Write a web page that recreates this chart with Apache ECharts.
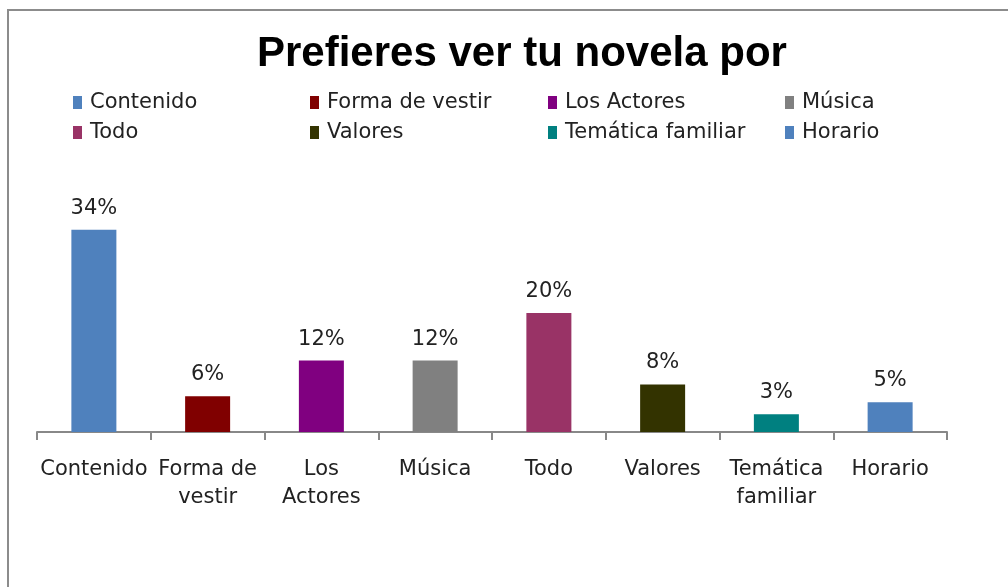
<!DOCTYPE html>
<html>
<head>
<meta charset="utf-8">
<script src="https://cdn.jsdelivr.net/npm/echarts@6/dist/echarts.min.js"></script>
<style>
  html, body { margin: 0; padding: 0; background: #fff; }
  #chart { width: 1008px; height: 587px; }
</style>
</head>
<body>
<div id="chart"></div>
<script>
// data
var categories = ['Contenido', 'Forma de\nvestir', 'Los\nActores', 'Música', 'Todo', 'Valores', 'Temática\nfamiliar', 'Horario'];
var legendNames = ['Contenido', 'Forma de vestir', 'Los Actores', 'Música', 'Todo', 'Valores', 'Temática familiar', 'Horario'];
var percentValues = [34, 6, 12, 12, 20, 8, 3, 5];
var barColors = ['#4f81bd', '#800000', '#800080', '#808080', '#993366', '#333300', '#008080', '#4f81bd'];

var chart = echarts.init(document.getElementById('chart'));

// one series per category so each gets its own legend entry
var series = legendNames.map(function (name, i) {
    return {
        name: name,
        type: 'bar',
        stack: 'all',
        barWidth: 45,
        itemStyle: { color: barColors[i] },
        label: {
            show: true,
            position: 'top',
            distance: 11,
            formatter: '{c}%',
            color: '#222',
            fontFamily: 'DejaVu Sans',
            fontSize: 21
        },
        data: percentValues.map(function (v, j) { return j === i ? v : '-'; })
    };
});

// legend laid out as 4 columns of 2 rows, like the original
var legendCols = [68, 305, 543, 780];
var legends = legendCols.map(function (x, c) {
    return {
        left: x,
        top: 87,
        orient: 'vertical',
        icon: 'rect',
        itemWidth: 9,
        itemHeight: 13,
        itemGap: 9,
        selectedMode: false,
        textStyle: { fontFamily: 'DejaVu Sans', fontSize: 21, color: '#222', padding: [0, 0, 0, 3] },
        data: [legendNames[c], legendNames[c + 4]]
    };
});

chart.setOption({
    animation: false,
    backgroundColor: '#fff',
    title: {
        text: 'Prefieres ver tu novela por',
        left: 252,
        top: 28,
        textStyle: { fontFamily: 'Liberation Sans', fontWeight: 'bold', fontSize: 42, color: '#000' }
    },
    legend: legends,
    grid: { left: 37, right: 61, top: 194, bottom: 155 },
    xAxis: {
        type: 'category',
        data: categories,
        axisLine: { lineStyle: { color: '#888', width: 2 } },
        axisTick: { show: true, length: 8, lineStyle: { color: '#888', width: 2 } },
        axisLabel: {
            interval: 0,
            margin: 24,
            color: '#222',
            fontFamily: 'DejaVu Sans',
            fontSize: 21,
            lineHeight: 28
        }
    },
    yAxis: {
        type: 'value',
        min: 0,
        max: 40,
        show: false,
        splitLine: { show: false }
    },
    graphic: [{
        type: 'rect',
        shape: { x: 8, y: 10, width: 1020, height: 600 },
        style: { fill: 'none', stroke: '#8c8c8c', lineWidth: 2 }
    }],
    series: series
});
</script>
</body>
</html>
